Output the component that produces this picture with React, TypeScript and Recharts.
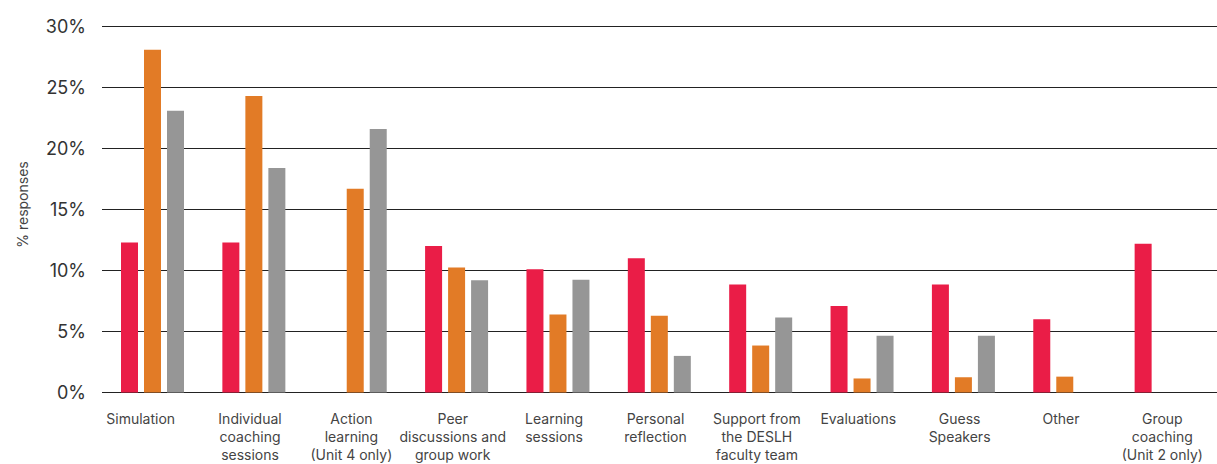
import React from "react";
import { BarChart, Bar, XAxis, YAxis, CartesianGrid } from "recharts";

const categories = [
  "Simulation",
  "Individual\ncoaching\nsessions",
  "Action\nlearning\n(Unit 4 only)",
  "Peer\ndiscussions and\ngroup work",
  "Learning\nsessions",
  "Personal\nreflection",
  "Support from\nthe DESLH\nfaculty team",
  "Evaluations",
  "Guess\nSpeakers",
  "Other",
  "Group\ncoaching\n(Unit 2 only)",
];

const redValues = [12.3, 12.3, null, 12.0, 10.1, 11.0, 8.85, 7.1, 8.85, 6.0, 12.2];
const orangeValues = [28.1, 24.3, 16.7, 10.25, 6.4, 6.3, 3.85, 1.15, 1.25, 1.3, null];
const grayValues = [23.1, 18.4, 21.6, 9.2, 9.25, 3.0, 6.15, 4.65, 4.65, null, null];

const yTicks = [0, 5, 10, 15, 20, 25, 30];

const data = categories.map((name, i) => ({
  name,
  red: redValues[i],
  orange: orangeValues[i],
  gray: grayValues[i],
}));

const FONT = "Inter, 'Noto Sans', sans-serif";

function CategoryTick(props: any) {
  const { x, y, payload, index } = props;
  const lines = String(payload.value).split("\n");
  // the first label sits flush with the plot's left edge in the original
  const cx = index === 0 ? x - 12 : x - 4;
  return (
    <text
      x={cx}
      y={y + 18}
      textAnchor="middle"
      fill="#444"
      fontSize={14}
      fontFamily={FONT}
    >
      {lines.map((line, i) => (
        <tspan key={i} x={cx} dy={i === 0 ? 5 : 18}>
          {line}
        </tspan>
      ))}
    </text>
  );
}

function PercentTick(props: any) {
  const { x, y, payload } = props;
  return (
    <text
      x={x}
      y={y}
      dy={6}
      textAnchor="end"
      fill="#333"
      fontSize={18}
      fontFamily={FONT}
    >
      {payload.value}%
    </text>
  );
}

function AxisTitle(props: any) {
  const vb = props.viewBox || { x: 0, y: 0, width: 0, height: 0 };
  const cx = vb.x + 22;
  const cy = vb.y + vb.height / 2 - 5;
  return (
    <text
      x={cx}
      y={cy}
      textAnchor="middle"
      dominantBaseline="central"
      transform={`rotate(-90, ${cx}, ${cy})`}
      fill="#444"
      fontSize={14}
      fontFamily={FONT}
    >
      % responses
    </text>
  );
}

export default function App() {
  return (
    <div style={{ position: "absolute", left: 0, top: 0, background: "#fff" }}>
      <BarChart
        width={1217}
        height={464}
        data={data}
        margin={{ top: 26.5, right: 0, left: 0, bottom: 0 }}
        barSize={17}
        barGap={6}
      >
        <CartesianGrid vertical={false} stroke="#222" strokeWidth={1} />
        <XAxis
          dataKey="name"
          axisLine={false}
          tickLine={false}
          height={71.5}
          interval={0}
          tick={<CategoryTick />}
        />
        <YAxis
          width={102}
          domain={[0, 30]}
          ticks={yTicks}
          axisLine={false}
          tickLine={false}
          tickSize={0}
          tickMargin={16}
          tick={<PercentTick />}
          label={{ content: <AxisTitle /> }}
        />
        <Bar dataKey="red" fill="#EA1D47" isAnimationActive={false} />
        <Bar dataKey="orange" fill="#E27B26" isAnimationActive={false} />
        <Bar dataKey="gray" fill="#969696" isAnimationActive={false} />
      </BarChart>
    </div>
  );
}
